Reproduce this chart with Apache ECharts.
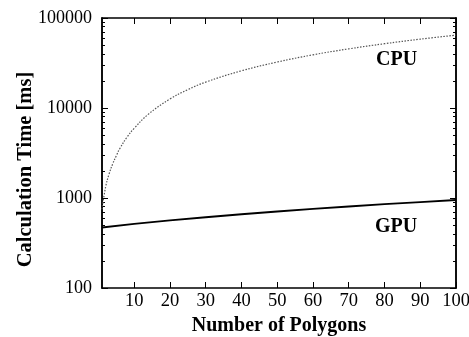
<!DOCTYPE html>
<html>
<head>
<meta charset="utf-8">
<script src="https://cdn.jsdelivr.net/npm/echarts@6/dist/echarts.min.js"></script>
<style>
  html, body { margin: 0; padding: 0; background: #fff; }
  #chart { width: 469px; height: 337px; }
</style>
</head>
<body>
<div id="chart"></div>
<script>
// 数据
const cpuX = [1, 2, 3, 4, 5, 6, 8, 10, 14, 20, 25, 30, 40, 50, 60, 70, 80, 90, 100];
const cpuY = [750, 1320, 1860, 2400, 2950, 3550, 4750, 5950, 8550, 12600, 16000, 19400, 25900, 32400, 39000, 45400, 51800, 58200, 64500];
const gpuX = [1, 10, 20, 30, 40, 50, 60, 70, 80, 90, 100];
const gpuY = [470, 515, 563, 611, 660, 708, 756, 805, 853, 902, 950];
const xTicks = [10, 20, 30, 40, 50, 60, 70, 80, 90, 100];
const yMajor = [100, 1000, 10000, 100000];
const yMinor = [200, 300, 400, 500, 600, 700, 800, 900,
  2000, 3000, 4000, 5000, 6000, 7000, 8000, 9000,
  20000, 30000, 40000, 50000, 60000, 70000, 80000, 90000];

const font = "Liberation Serif";
const chart = echarts.init(document.getElementById("chart"));

function yAxisOf(pos, minor, label) {
  return {
    type: "log",
    position: pos,
    min: 100,
    max: 100000,
    logBase: 10,
    name: label ? "Calculation Time [ms]" : "",
    nameLocation: "middle",
    nameGap: 66,
    nameMoveOverlap: false,
    nameTextStyle: {
      fontFamily: font,
      fontWeight: "bold",
      fontSize: 20.5,
      color: "#000",
      padding: [0, 33, 0, 0], // 标题略往下
    },
    axisLine: { show: true, lineStyle: { color: "#000", width: 1.5 } },
    axisTick: {
      show: true,
      inside: true,
      length: minor ? 3 : 6,
      lineStyle: { color: "#000", width: 1 },
      customValues: minor ? yMinor : yMajor,
    },
    axisLabel: {
      show: label,
      margin: 10,
      fontFamily: font,
      fontSize: 18,
      color: "#000",
      customValues: yMajor,
      formatter: (v) => String(v),
    },
    splitLine: { show: false },
  };
}

function xAxisOf(pos, label) {
  return {
    type: "value",
    position: pos,
    min: 1,
    max: 100,
    name: label ? "Number of Polygons" : "",
    nameLocation: "middle",
    nameGap: 28,
    nameMoveOverlap: false,
    nameTextStyle: { fontFamily: font, fontWeight: "bold", fontSize: 20, color: "#000" },
    axisLine: { show: true, onZero: false, lineStyle: { color: "#000", width: 1.5 } },
    axisTick: {
      show: true,
      inside: true,
      length: 6,
      lineStyle: { color: "#000", width: 1 },
      customValues: xTicks,
    },
    axisLabel: {
      show: label,
      margin: 4,
      fontFamily: font,
      fontSize: 18.5,
      color: "#000",
      customValues: xTicks,
    },
    splitLine: { show: false },
  };
}

chart.setOption({
  animation: false,
  backgroundColor: "#fff",
  grid: { left: 102, right: 13, top: 18, bottom: 49, outerBoundsMode: "none", containLabel: false },
  xAxis: [xAxisOf("bottom", true), xAxisOf("top", false)],
  yAxis: [
    yAxisOf("left", false, true),
    yAxisOf("left", true, false),
    yAxisOf("right", false, false),
    yAxisOf("right", true, false),
  ],
  graphic: [
    {
      type: "text",
      left: 376,
      top: 50,
      style: { text: "CPU", font: "bold 20px 'Liberation Serif'", fill: "#000" },
    },
    {
      type: "text",
      left: 375,
      top: 217,
      style: { text: "GPU", font: "bold 20px 'Liberation Serif'", fill: "#000" },
    },
  ],
  series: [
    {
      name: "CPU",
      type: "line",
      smooth: 0.4,
      showSymbol: false,
      data: cpuX.map((x, i) => [x, cpuY[i]]),
      lineStyle: { color: "#555", width: 1.2, type: [1.5, 1.5] },
    },
    {
      name: "GPU",
      type: "line",
      showSymbol: false,
      data: gpuX.map((x, i) => [x, gpuY[i]]),
      lineStyle: { color: "#000", width: 1.8 },
    },
  ],
});
</script>
</body>
</html>
